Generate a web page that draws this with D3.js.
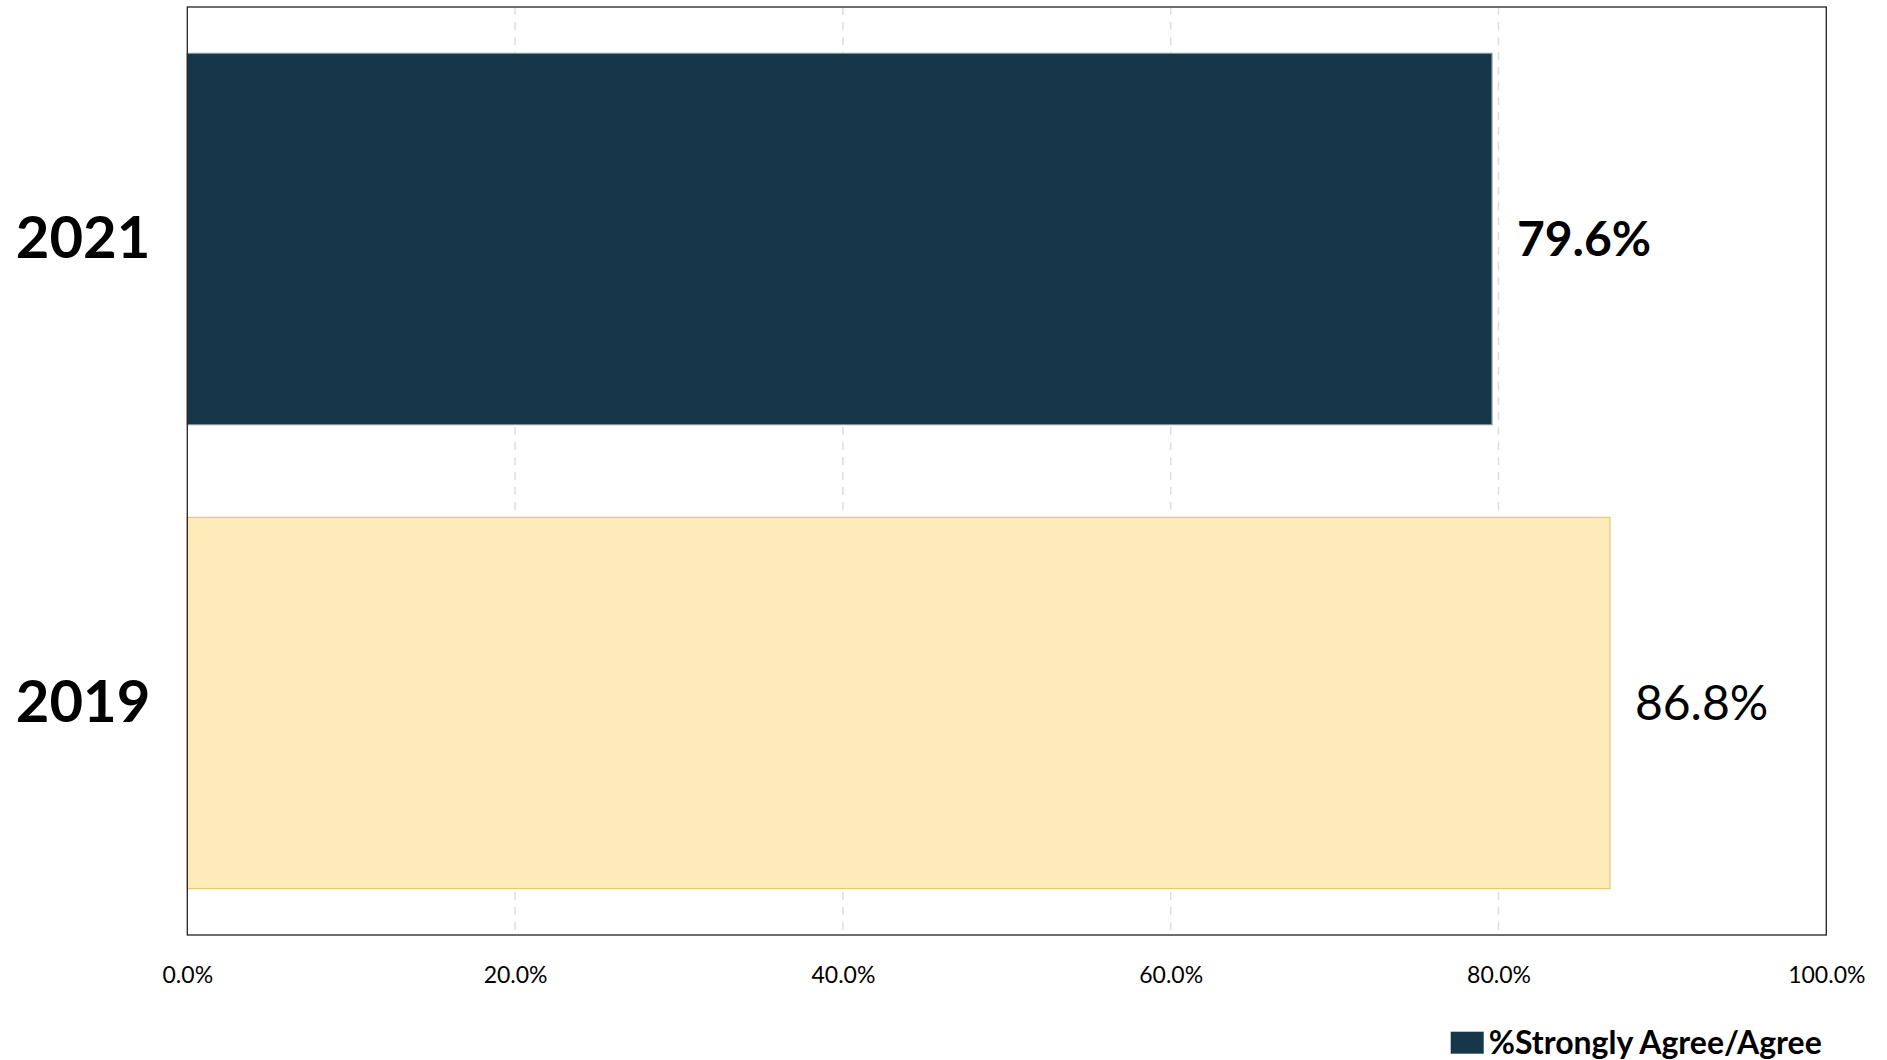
<!DOCTYPE html>
<html>
<head>
<meta charset="utf-8">
<script src="https://cdn.jsdelivr.net/npm/d3@7"></script>
<style>
  html, body { margin: 0; padding: 0; background: #ffffff; }
  svg { display: block; }
</style>
</head>
<body>
<svg id="chart" width="1887" height="1060"></svg>
<script>
const categories = ["2021", "2019"];
const values = [0.796, 0.868];
const valueLabels = ["79.6%", "86.8%"];
const tickValues = [0, 0.2, 0.4, 0.6, 0.8, 1.0];
const tickLabels = ["0.0%", "20.0%", "40.0%", "60.0%", "80.0%", "100.0%"];
const legendLabel = "%Strongly Agree/Agree";

const fills = ["#16364a", "#ffebb9"];
const strokes = ["#7e8e9a", "#f0c46e"];
const labelWeights = ["bold", "normal"];

const svg = d3.select("#chart");
const margin = { left: 187.3, right: 1887 - 1826.3, top: 7, bottom: 1060 - 935 };
const W = 1887, H = 1060;
const font = "Lato, 'Open Sans', sans-serif";

const x = d3.scaleLinear().domain([0, 1]).range([margin.left, W - margin.right]);
const y = d3.scaleBand().domain(categories).range([margin.top, H - margin.bottom])
  .paddingInner(0.2).paddingOuter(0.1);

// gridlines
svg.append("g").selectAll("line")
  .data(tickValues.filter(v => v > 0 && v < 1))
  .join("line")
  .attr("x1", d => x(d)).attr("x2", d => x(d))
  .attr("y1", margin.top).attr("y2", H - margin.bottom)
  .attr("stroke", "#dedede").attr("stroke-width", 1.5)
  .attr("stroke-dasharray", "8,7");

// bars
svg.append("g").selectAll("rect")
  .data(categories)
  .join("rect")
  .attr("x", x(0))
  .attr("y", d => y(d))
  .attr("width", (d, i) => x(values[i]) - x(0))
  .attr("height", y.bandwidth())
  .attr("fill", (d, i) => fills[i])
  .attr("stroke", (d, i) => strokes[i])
  .attr("stroke-width", 1.2);

// plot border
svg.append("rect")
  .attr("x", margin.left).attr("y", margin.top)
  .attr("width", x(1) - x(0)).attr("height", H - margin.bottom - margin.top)
  .attr("fill", "none").attr("stroke", "#222").attr("stroke-width", 1.3);

// value labels
svg.append("g").selectAll("text")
  .data(categories)
  .join("text")
  .attr("x", (d, i) => x(values[i]) + 25)
  .attr("y", d => y(d) + y.bandwidth() / 2)
  .attr("dy", "0.35em")
  .attr("font-family", font)
  .attr("font-size", 48)
  .attr("font-weight", (d, i) => labelWeights[i])
  .attr("fill", "#000")
  .text((d, i) => valueLabels[i]);

// category labels
const yAxis = d3.axisLeft(y).tickSize(0).tickPadding(37);
const gy = svg.append("g").attr("transform", `translate(${margin.left},0)`).call(yAxis);
gy.select(".domain").remove();
gy.selectAll("text")
  .attr("font-family", font).attr("font-size", 58).attr("font-weight", "bold")
  .attr("fill", "#000");

// x axis
const xAxis = d3.axisBottom(x).tickValues(tickValues)
  .tickFormat((d, i) => tickLabels[i]).tickSize(0).tickPadding(32);
const gx = svg.append("g").attr("transform", `translate(0,${H - margin.bottom})`).call(xAxis);
gx.select(".domain").remove();
gx.selectAll("text")
  .attr("font-family", font).attr("font-size", 23).attr("fill", "#000");

// legend
const lg = svg.append("g").attr("transform", "translate(1450.7,1031.7)");
lg.append("rect").attr("width", 33).attr("height", 22).attr("fill", fills[0]);
lg.append("text").attr("x", 38).attr("y", 11).attr("dy", "0.35em")
  .attr("font-family", font).attr("font-size", 32).attr("font-weight", "bold")
  .attr("fill", "#000").text(legendLabel);
</script>
</body>
</html>
